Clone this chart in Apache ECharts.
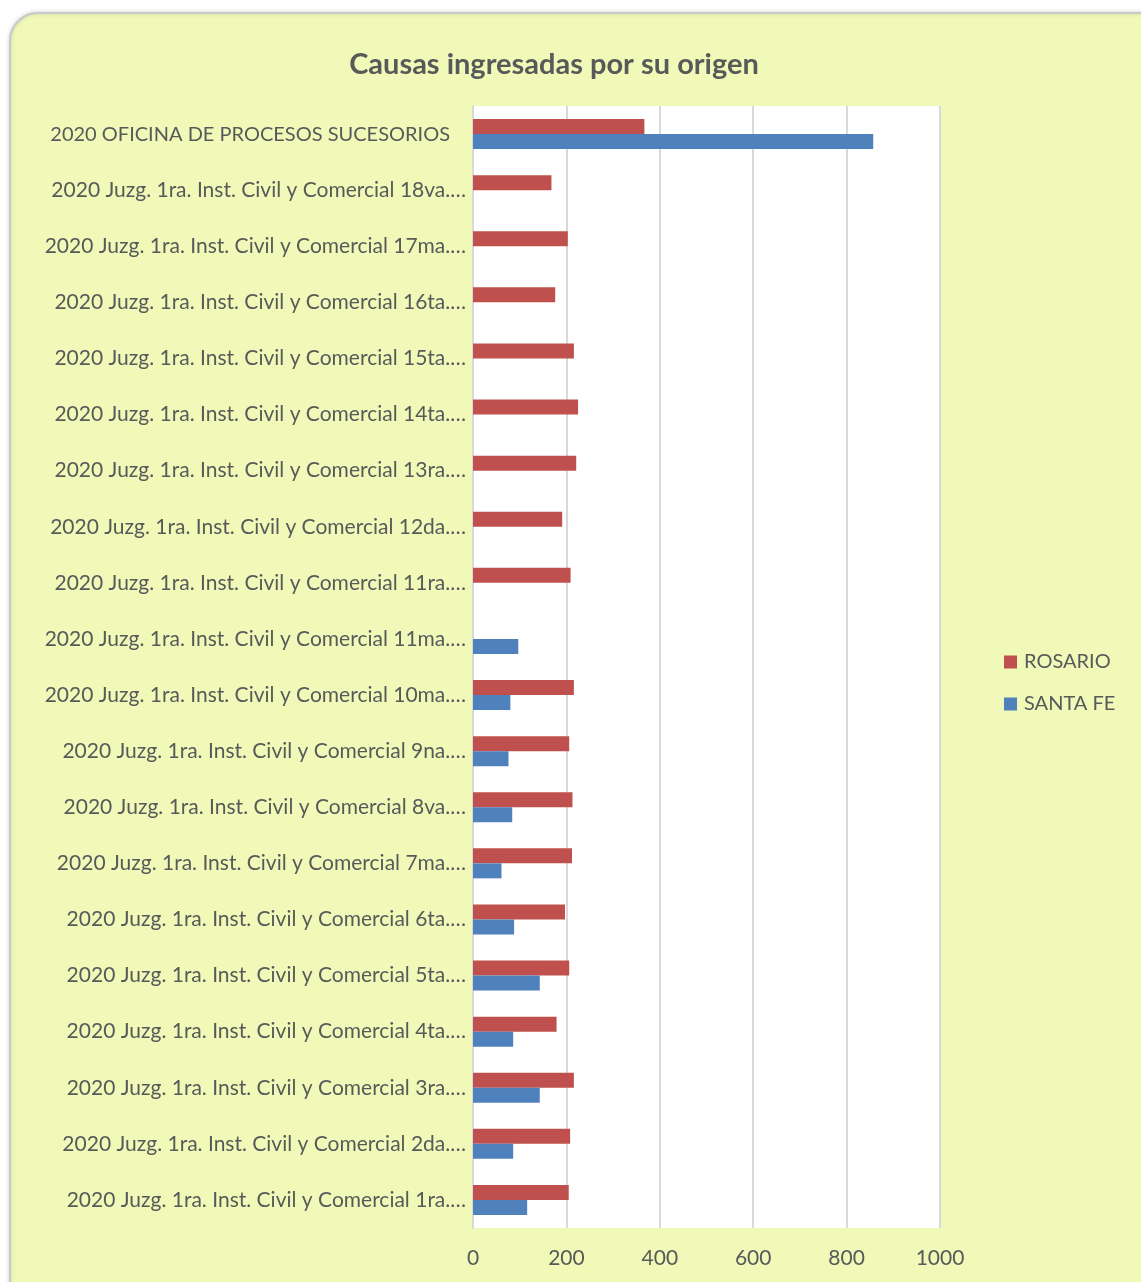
<!DOCTYPE html>
<html>
  <head>
    <meta charset="utf-8" />
    <title>Causas ingresadas por su origen</title>
    <script src="https://cdn.jsdelivr.net/npm/echarts@6/dist/echarts.min.js"></script>
    <style>
      html, body { margin: 0; padding: 0; background: #ffffff; }
      #main { width: 1141px; height: 1282px; }
    </style>
  </head>
  <body>
    <div id="main"></div>
    <script>
      // categorias de arriba hacia abajo
      var categories = [
        '2020 OFICINA DE PROCESOS SUCESORIOS',
        '2020 Juzg. 1ra. Inst. Civil y Comercial 18va.…',
        '2020 Juzg. 1ra. Inst. Civil y Comercial 17ma.…',
        '2020 Juzg. 1ra. Inst. Civil y Comercial 16ta.…',
        '2020 Juzg. 1ra. Inst. Civil y Comercial 15ta.…',
        '2020 Juzg. 1ra. Inst. Civil y Comercial 14ta.…',
        '2020 Juzg. 1ra. Inst. Civil y Comercial 13ra.…',
        '2020 Juzg. 1ra. Inst. Civil y Comercial 12da.…',
        '2020 Juzg. 1ra. Inst. Civil y Comercial 11ra.…',
        '2020 Juzg. 1ra. Inst. Civil y Comercial 11ma.…',
        '2020 Juzg. 1ra. Inst. Civil y Comercial 10ma.…',
        '2020 Juzg. 1ra. Inst. Civil y Comercial 9na.…',
        '2020 Juzg. 1ra. Inst. Civil y Comercial 8va.…',
        '2020 Juzg. 1ra. Inst. Civil y Comercial 7ma.…',
        '2020 Juzg. 1ra. Inst. Civil y Comercial 6ta.…',
        '2020 Juzg. 1ra. Inst. Civil y Comercial 5ta.…',
        '2020 Juzg. 1ra. Inst. Civil y Comercial 4ta.…',
        '2020 Juzg. 1ra. Inst. Civil y Comercial 3ra.…',
        '2020 Juzg. 1ra. Inst. Civil y Comercial 2da.…',
        '2020 Juzg. 1ra. Inst. Civil y Comercial 1ra.…'
      ]
      var rosario = [367, 168, 203, 176, 216, 225, 221, 191, 209, null, 216, 206, 213, 212, 197, 206, 179, 216, 208, 205]
      var santaFe = [857, null, null, null, null, null, null, null, null, 97, 80, 76, 84, 61, 88, 143, 86, 143, 86, 116]
      var xTicks = [0, 200, 400, 600, 800, 1000]

      var textColor = '#595959'
      var font = 'Lato'

      var myChart = echarts.init(document.getElementById('main'))
      var option = {
        backgroundColor: '#ffffff',
        animation: false,
        // tarjeta de fondo
        graphic: [
          {
            type: 'rect',
            z: -10,
            silent: true,
            shape: { x: 10, y: 13, width: 1170, height: 1310, r: 28 },
            style: {
              fill: '#F0F9B8',
              stroke: '#C8C8C8',
              lineWidth: 2,
              shadowBlur: 4,
              shadowColor: 'rgba(0,0,0,0.15)'
            }
          }
        ],
        title: {
          text: 'Causas ingresadas por su origen',
          left: 549,
          textAlign: 'center',
          top: 45,
          textStyle: {
            fontFamily: font,
            fontSize: 29,
            fontWeight: 'bold',
            color: textColor
          }
        },
        legend: {
          orient: 'vertical',
          left: 999,
          top: 647,
          itemWidth: 13,
          itemHeight: 13,
          itemGap: 22,
          icon: 'rect',
          data: ['ROSARIO', 'SANTA FE'],
          textStyle: { fontFamily: font, fontSize: 20, color: textColor, padding: [0, 0, 0, 2] }
        },
        grid: {
          left: 473,
          right: 201,
          top: 106,
          bottom: 54,
          show: true,
          backgroundColor: '#ffffff',
          borderWidth: 0
        },
        xAxis: {
          type: 'value',
          min: 0,
          max: 1000,
          interval: 200,
          axisLine: { show: false },
          axisTick: { show: false },
          splitLine: { lineStyle: { color: '#D9D9D9', width: 2 } },
          axisLabel: {
            margin: 20,
            fontFamily: font,
            fontSize: 21,
            color: textColor,
            formatter: function (v) { return xTicks.indexOf(v) >= 0 ? String(v) : '' }
          }
        },
        yAxis: {
          type: 'category',
          inverse: true,
          data: categories,
          axisLine: { show: true, lineStyle: { color: '#D9D9D9', width: 2 } },
          axisTick: { show: false },
          axisLabel: {
            margin: 7,
            fontFamily: font,
            fontSize: 21,
            color: textColor,
            formatter: function (v, i) {
              return i === 0 ? '{o|' + v + '}' : v
            },
            rich: {
              o: { fontFamily: font, fontSize: 20, color: textColor, padding: [0, 16, 0, 0] }
            }
          }
        },
        series: [
          {
            name: 'ROSARIO',
            type: 'bar',
            data: rosario,
            barWidth: 15,
            barGap: '0%',
            itemStyle: { color: '#C0504D' }
          },
          {
            name: 'SANTA FE',
            type: 'bar',
            data: santaFe,
            barWidth: 15,
            barGap: '0%',
            itemStyle: { color: '#4F81BD' }
          }
        ]
      }
      myChart.setOption(option)
    </script>
  </body>
</html>
